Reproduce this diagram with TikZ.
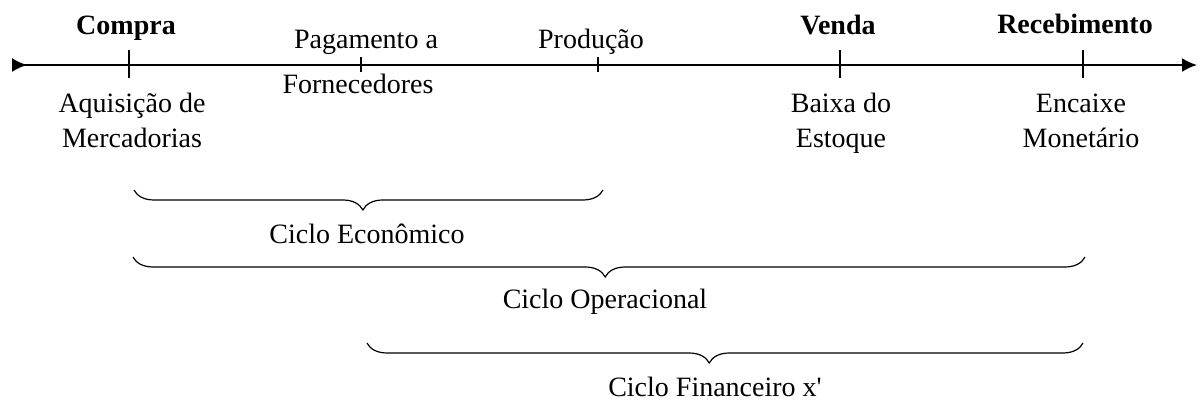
\documentclass[tikz,border=0pt]{standalone}
\usepackage{fontspec}
\setmainfont{Liberation Serif}
\usetikzlibrary{arrows.meta}
\usetikzlibrary{positioning}
\usetikzlibrary{decorations.pathreplacing}

\begin{document}
\begin{tikzpicture}
  [x=0.5pt, y=-0.5pt,
   every node/.style={inner sep=0pt, font=\fontsize{14}{17.5}\selectfont, align=center},
   evento/.style={font=\fontsize{14}{17.5}\selectfont\bfseries},
   chave/.style={decorate, decoration={brace, mirror, amplitude=10pt, aspect=#1}, line width=0.6pt},
   marca/.style={line width=0.9pt}]
  \useasboundingbox (0,0) rectangle (1201,401);

  % linha do tempo
  \coordinate (ini) at (12,65);
  \coordinate (fim) at (1197,65);
  \draw[line width=1pt, {Latex[reversed, length=7.5pt, width=7pt]}-{Latex[length=7.5pt, width=7pt]}] (ini) -- (fim);

  \coordinate (compra) at (129,65);
  \coordinate (pagto) at (361,65);
  \coordinate (prod) at (598,65);
  \coordinate (venda) at (840,65);
  \coordinate (receb) at (1083,65);

  \foreach \p in {compra, venda, receb}
    \draw[marca] (\p) ++(0,-15) -- ++(0,28);
  \foreach \p in {pagto, prod}
    \draw[marca] (\p) ++(0,-8) -- ++(0,15);

  % eventos
  \node[evento, anchor=base] (tCompra) at (126,35) {Compra};
  \node[anchor=base] (tPagto) at (366,49) {Pagamento a};
  \node[anchor=base] (tForn) at (358,94) {Fornecedores};
  \node[anchor=base] (tProd) at (591,49) {Produção};
  \node[evento, anchor=base] (tVenda) at (838,35) {Venda};
  \node[evento, anchor=base] (tReceb) at (1075,34) {Recebimento};

  % base = ultima linha
  \node[anchor=base] (tAquis) at (132,148) {Aquisição de\\Mercadorias};
  \node[anchor=base] (tBaixa) at (841,148) {Baixa do\\Estoque};
  \node[anchor=base] (tEncx) at (1081,148) {Encaixe\\Monetário};

  % ciclos
  \coordinate (e1) at (134,190);
  \coordinate (e2) at (603,190);
  \coordinate (o1) at (133,257);
  \coordinate (o2) at (1085,257);
  \coordinate (f1) at (367,343);
  \coordinate (f2) at (1083,343);

  \draw[chave=0.488] (e1) -- (e2);
  \draw[chave=0.496] (o1) -- (o2);
  \draw[chave=0.478] (f1) -- (f2);

  \node[anchor=base] (cEcon) at (367,243) {Ciclo Econômico};
  \node[anchor=base] (cOper) at (605,308) {Ciclo Operacional};
  \node[anchor=base] (cFin) at (715,396) {Ciclo Financeiro x\textquotesingle};
\end{tikzpicture}
\end{document}
